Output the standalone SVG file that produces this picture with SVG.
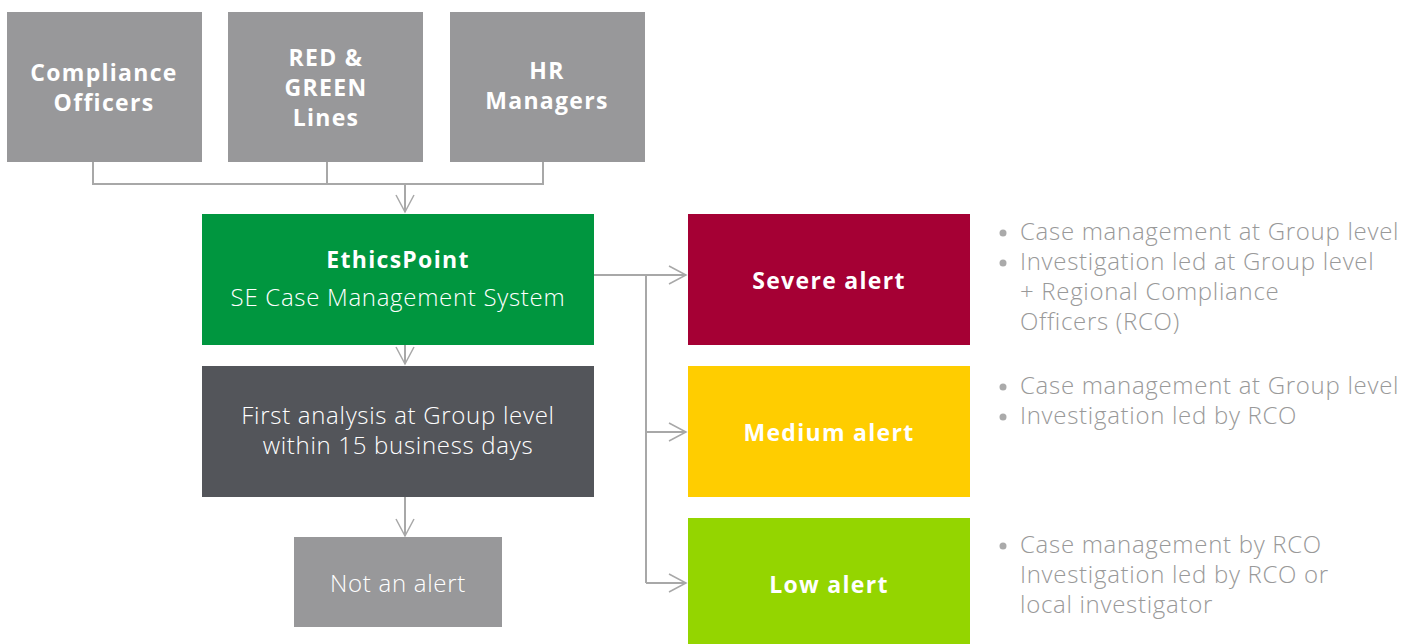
<svg xmlns="http://www.w3.org/2000/svg" width="1413" height="644" viewBox="0 0 1413 644">
<defs>
<marker id="arr" markerWidth="20" markerHeight="20" refX="18" refY="10" orient="auto" markerUnits="userSpaceOnUse">
<path d="M1,1 L18,10 L1,19" fill="none" stroke="#a8a8a8" stroke-width="1.5"/>
</marker>
<style>
.b{font-family:"Open Sans","Liberation Sans",sans-serif;font-weight:700;font-size:23px;letter-spacing:1.3px;fill:#fff;text-anchor:middle}
.l{font-family:"Open Sans","Liberation Sans",sans-serif;font-weight:300;font-size:24px;letter-spacing:0.7px;fill:#fff;text-anchor:middle}
.n{font-family:"Open Sans","Liberation Sans",sans-serif;font-weight:300;font-size:24px;letter-spacing:0.7px;fill:#999}
.c{fill:none;stroke:#a8a8a8;stroke-width:2}
.dot{fill:#aaa}
</style>
</defs>
<rect width="1413" height="644" fill="#fff"/>
<g id="connectors">
<path class="c" d="M93,162 V184 H543 V162 M327,162 V184"/>
<path class="c" d="M405,184 V212" marker-end="url(#arr)"/>
<path class="c" d="M405,345 V364" marker-end="url(#arr)"/>
<path class="c" d="M405,497 V536" marker-end="url(#arr)"/>
<path class="c" d="M594,275 H686" marker-end="url(#arr)"/>
<path class="c" d="M646,275 V583"/>
<path class="c" d="M646,432 H686" marker-end="url(#arr)"/>
<path class="c" d="M646,583 H686" marker-end="url(#arr)"/>
</g>
<g id="compliance-officers">
<rect x="7" y="12" width="195" height="150" fill="#98989a"/>
<text class="b" x="104" y="81">Compliance</text>
<text class="b" x="104" y="111">Officers</text>
</g>
<g id="red-green-lines">
<rect x="228" y="12" width="195" height="150" fill="#98989a"/>
<text class="b" x="326" y="66">RED &amp;</text>
<text class="b" x="326" y="96">GREEN</text>
<text class="b" x="326" y="126">Lines</text>
</g>
<g id="hr-managers">
<rect x="450" y="12" width="195" height="150" fill="#98989a"/>
<text class="b" x="547" y="79">HR</text>
<text class="b" x="547" y="109">Managers</text>
</g>
<g id="ethicspoint">
<rect x="202" y="214" width="392" height="131" fill="#00963f"/>
<text class="b" x="398" y="268">EthicsPoint</text>
<text class="l" x="398" y="306">SE Case Management System</text>
</g>
<g id="first-analysis">
<rect x="202" y="366" width="392" height="131" fill="#53555a"/>
<text class="l" x="398" y="424">First analysis at Group level</text>
<text class="l" x="398" y="454">within 15 business days</text>
</g>
<g id="not-an-alert">
<rect x="294" y="537" width="208" height="90" fill="#98989a"/>
<text class="l" x="398" y="592">Not an alert</text>
</g>
<g id="severe-alert">
<rect x="688" y="214" width="282" height="131" fill="#a50034"/>
<text class="b" x="829" y="289">Severe alert</text>
</g>
<g id="medium-alert">
<rect x="688" y="366" width="282" height="131" fill="#ffcd00"/>
<text class="b" x="829" y="441">Medium alert</text>
</g>
<g id="low-alert">
<rect x="688" y="518" width="282" height="126" fill="#94d500"/>
<text class="b" x="829" y="593">Low alert</text>
</g>
<g id="severe-notes">
<circle class="dot" cx="1003" cy="233" r="3.5"/>
<circle class="dot" cx="1003" cy="263" r="3.5"/>
<text class="n" x="1020" y="240">Case management at Group level</text>
<text class="n" x="1020" y="270">Investigation led at Group level</text>
<text class="n" x="1020" y="300">+ Regional Compliance</text>
<text class="n" x="1020" y="330">Officers (RCO)</text>
</g>
<g id="medium-notes">
<circle class="dot" cx="1003" cy="387" r="3.5"/>
<circle class="dot" cx="1003" cy="417" r="3.5"/>
<text class="n" x="1020" y="394">Case management at Group level</text>
<text class="n" x="1020" y="424">Investigation led by RCO</text>
</g>
<g id="low-notes">
<circle class="dot" cx="1003" cy="546" r="3.5"/>
<text class="n" x="1020" y="553">Case management by RCO</text>
<text class="n" x="1020" y="583">Investigation led by RCO or</text>
<text class="n" x="1020" y="613">local investigator</text>
</g>
</svg>
